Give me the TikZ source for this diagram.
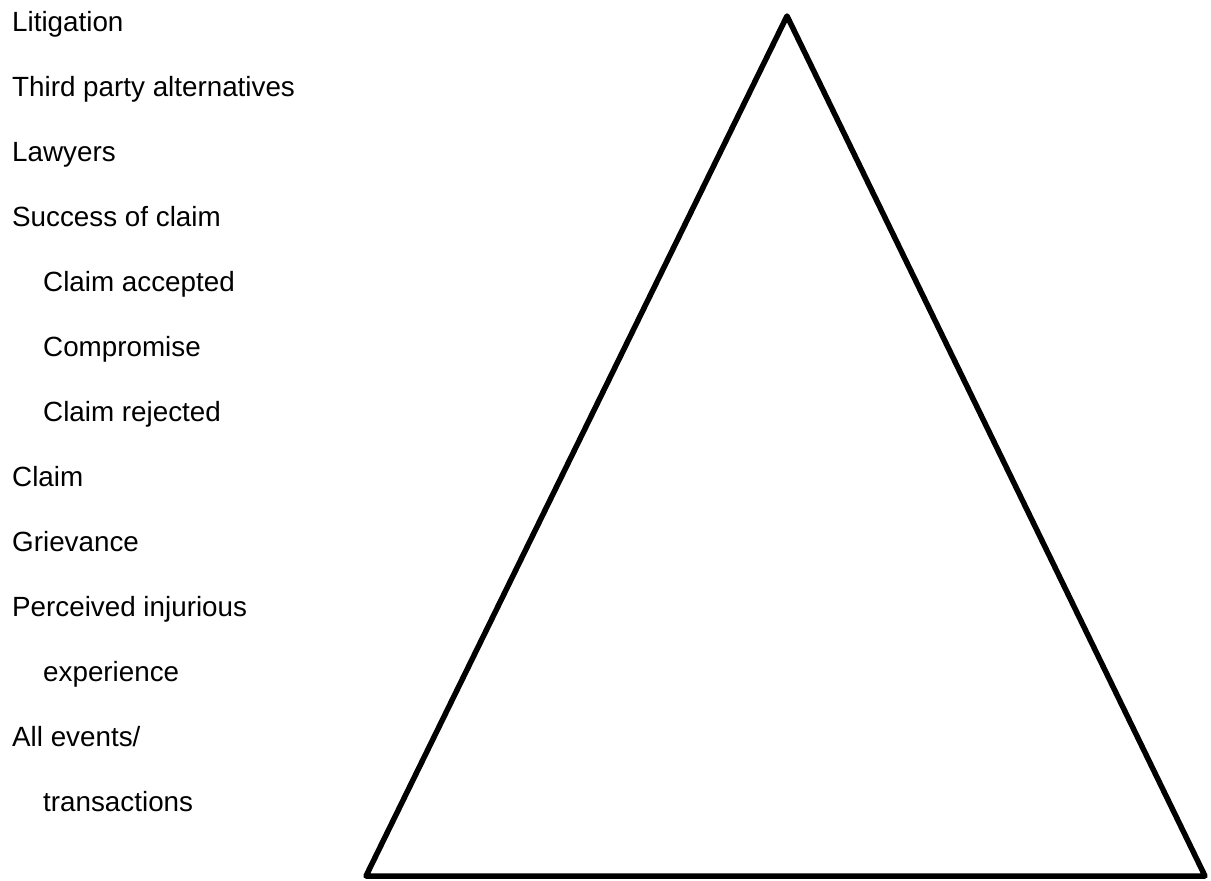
\documentclass[tikz,border=0pt]{standalone}
\usepackage{fontspec}
\setmainfont{Liberation Sans}
\usetikzlibrary{positioning}

\begin{document}
\begin{tikzpicture}[x=1pt,y=-1pt,every node/.style={font=\fontsize{27.8}{30}\selectfont,inner sep=0pt,anchor=base west}]
\useasboundingbox (0,0) rectangle (1211,881);
\coordinate (top) at (787,16);
\coordinate (bl) at (366,876);
\coordinate (br) at (1205,876);
\draw[line width=5.5pt,line join=round] (top)--(br)--(bl)--cycle;
\node (lit) at (12,31.7) {Litigation};
\node (tpa) at (12,96.7) {Third party alternatives};
\node (law) at (12,161.7) {Lawyers};
\node (suc) at (12,226.7) {Success of claim};
\node (acc) at (43,291.7) {Claim accepted};
\node (com) at (43,356.7) {Compromise};
\node (rej) at (43,421.7) {Claim rejected};
\node (clm) at (12,486.7) {Claim};
\node (grv) at (12,551.7) {Grievance};
\node (pij) at (12,616.7) {Perceived injurious};
\node (exp) at (43,681.7) {experience};
\node (all) at (12,746.7) {All events/};
\node (trn) at (43,811.7) {transactions};
\end{tikzpicture}
\end{document}
